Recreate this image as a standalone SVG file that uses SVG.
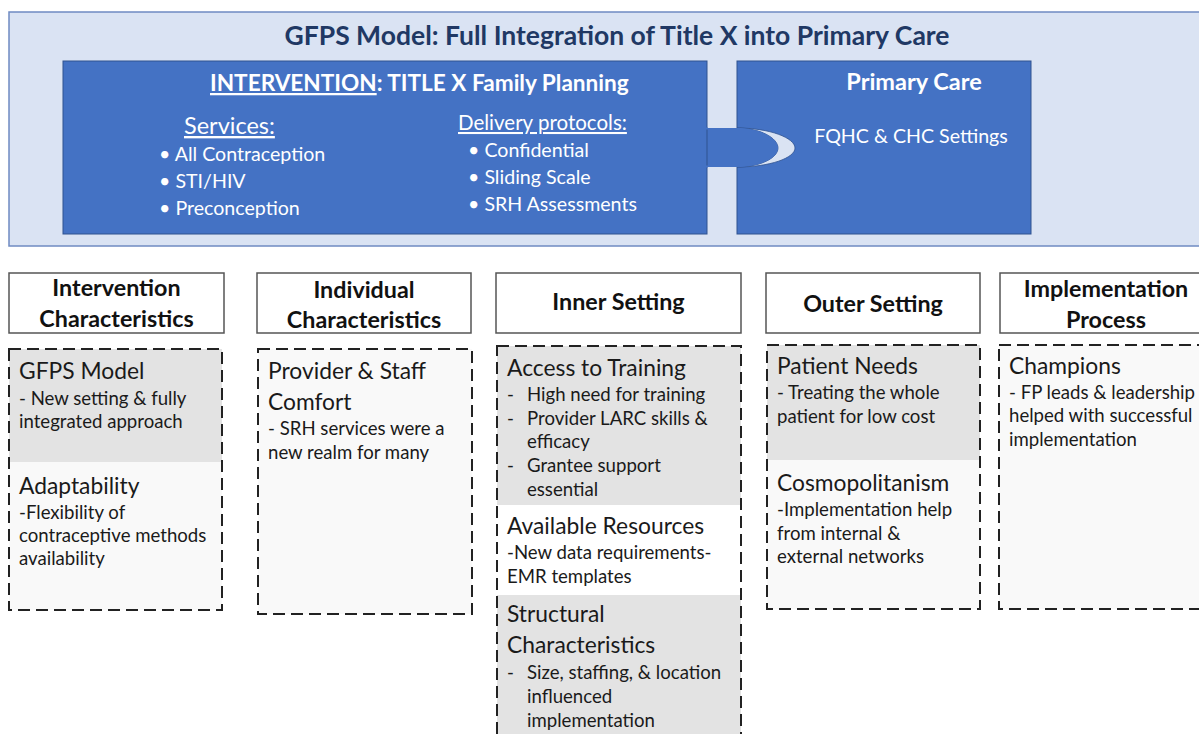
<svg xmlns="http://www.w3.org/2000/svg" width="1199" height="734" viewBox="0 0 1199 734">
  <style>
    text { font-family: Lato, "Open Sans", "Liberation Sans", sans-serif; }
    .title { font-size: 26.5px; font-weight: 700; fill: #203864; }
    .wbold { font-size: 22.6px; font-weight: 700; fill: #ffffff; }
    .pc { font-size: 23.5px; font-weight: 700; fill: #ffffff; }
    .wlabel { font-size: 23.5px; fill: #ffffff; }
    .wproto { font-size: 20.5px; fill: #ffffff; }
    .wtext { font-size: 19.6px; fill: #ffffff; }
    .hdr { fill: #ffffff; stroke: #555555; stroke-width: 1.5; }
    .hdrtext { font-size: 23.3px; font-weight: 700; fill: #111111; text-anchor: middle; }
    .dash { fill: none; stroke: #222222; stroke-width: 2; stroke-dasharray: 12 6; }
    .gray { fill: #e3e3e3; }
    .light { fill: #f9f9f9; }
    .sub { font-size: 22.8px; fill: #1a1a1a; }
    .body { font-size: 18.6px; fill: #1a1a1a; }
  </style>

  <rect width="1199" height="734" fill="#ffffff"/>

  <!-- Top banner: the GFPS model -->
  <g id="gfps-banner">
    <rect x="9" y="12" width="1200" height="234" fill="#dae3f3" stroke="#6f8bc2" stroke-width="1.5"/>
    <text class="title" x="617" y="45" text-anchor="middle">GFPS Model: Full Integration of Title X into Primary Care</text>
  </g>

  <g id="primary-care">
    <rect x="737" y="61" width="294" height="173" fill="#4472c4" stroke="#2f528f" stroke-width="1"/>
    <text class="pc" x="914" y="90" text-anchor="middle">Primary Care</text>
    <text class="wtext" x="911" y="143" text-anchor="middle">FQHC &amp; CHC Settings</text>
  </g>

  <!-- Puzzle-style joint between the two blue panels -->
  <g id="connectors">
    <path d="M737,128 C770,128 795,138 795,148 C795,158 770,167 737,167 C760,167 778,158 778,148 C778,138 760,128 737,128 Z" fill="#dae3f3" stroke="#2f528f" stroke-width="0.8"/>
    <path d="M706,128 L737,128 C760,128 778,138 778,148 C778,158 760,167 737,167 L706,167 Z" fill="#4472c4"/>
  </g>

  <g id="intervention">
    <rect x="63" y="61" width="644" height="173" fill="#4472c4" stroke="#2f528f" stroke-width="1"/>
    <path d="M706,128.5 L708,128.5 M706,166.5 L708,166.5" stroke="#4472c4" stroke-width="2"/>
    <text class="wbold" x="210" y="91"><tspan text-decoration="underline">INTERVENTION</tspan>: TITLE X Family Planning</text>
    <text class="wlabel" x="184" y="134" text-decoration="underline">Services:</text>
    <text class="wtext" x="159" y="161">• All Contraception</text>
    <text class="wtext" x="159" y="188">• STI/HIV</text>
    <text class="wtext" x="159" y="215">• Preconception</text>
    <text class="wproto" x="458" y="130" text-decoration="underline">Delivery protocols:</text>
    <text class="wtext" x="468" y="157">• Confidential</text>
    <text class="wtext" x="468" y="184">• Sliding Scale</text>
    <text class="wtext" x="468" y="211">• SRH Assessments</text>
  </g>

  <!-- Domain 1 -->
  <g id="intervention-characteristics">
    <rect class="hdr" x="9" y="273" width="215" height="60"/>
    <text class="hdrtext" x="116.5" y="296">Intervention</text>
    <text class="hdrtext" x="116.5" y="327">Characteristics</text>
    <rect class="gray" x="9" y="349" width="213" height="113"/>
    <rect class="light" x="9" y="462" width="213" height="148"/>
    <rect class="dash" x="9" y="349" width="213" height="261"/>
    <text class="sub" x="19" y="379">GFPS Model</text>
    <text class="body" x="19" y="405">- New setting &amp; fully</text>
    <text class="body" x="19" y="428">integrated approach</text>
    <text class="sub" x="19" y="494">Adaptability</text>
    <text class="body" x="19" y="519">-Flexibility of</text>
    <text class="body" x="19" y="542">contraceptive methods</text>
    <text class="body" x="19" y="565">availability</text>
  </g>

  <!-- Domain 2 -->
  <g id="individual-characteristics">
    <rect class="hdr" x="257" y="273" width="214" height="60"/>
    <text class="hdrtext" x="364" y="298">Individual</text>
    <text class="hdrtext" x="364" y="328">Characteristics</text>
    <rect class="light" x="258" y="349" width="214" height="265"/>
    <rect class="dash" x="258" y="349" width="214" height="265"/>
    <text class="sub" x="268" y="379">Provider &amp; Staff</text>
    <text class="sub" x="268" y="410">Comfort</text>
    <text class="body" x="268" y="435">- SRH services were a</text>
    <text class="body" x="268" y="459">new realm for many</text>
  </g>

  <!-- Domain 3 -->
  <g id="inner-setting">
    <rect class="hdr" x="496" y="273" width="245" height="60"/>
    <text class="hdrtext" x="618.5" y="310">Inner Setting</text>
    <rect class="gray" x="497" y="346" width="244" height="159"/>
    <rect fill="#ffffff" x="497" y="505" width="244" height="90"/>
    <rect class="gray" x="497" y="595" width="244" height="150"/>
    <rect class="dash" x="497" y="346" width="244" height="400"/>
    <text class="sub" x="507" y="376">Access to Training</text>
    <text class="body" x="507" y="401">-</text>
    <text class="body" x="527" y="401">High need for training</text>
    <text class="body" x="507" y="425">-</text>
    <text class="body" x="527" y="425">Provider LARC skills &amp;</text>
    <text class="body" x="527" y="448">efficacy</text>
    <text class="body" x="507" y="472">-</text>
    <text class="body" x="527" y="472">Grantee support</text>
    <text class="body" x="527" y="496">essential</text>
    <text class="sub" x="507" y="534">Available Resources</text>
    <text class="body" x="507" y="559">-New data requirements-</text>
    <text class="body" x="507" y="583">EMR templates</text>
    <text class="sub" x="507" y="622">Structural</text>
    <text class="sub" x="507" y="653">Characteristics</text>
    <text class="body" x="507" y="679">-</text>
    <text class="body" x="527" y="679">Size, staffing, &amp; location</text>
    <text class="body" x="527" y="703">influenced</text>
    <text class="body" x="527" y="727">implementation</text>
  </g>

  <!-- Domain 4 -->
  <g id="outer-setting">
    <rect class="hdr" x="766" y="273" width="214" height="60"/>
    <text class="hdrtext" x="873" y="312">Outer Setting</text>
    <rect class="gray" x="767" y="345" width="213" height="115"/>
    <rect class="light" x="767" y="460" width="213" height="149"/>
    <rect class="dash" x="767" y="345" width="213" height="264"/>
    <text class="sub" x="777" y="374">Patient Needs</text>
    <text class="body" x="777" y="399">- Treating the whole</text>
    <text class="body" x="777" y="423">patient for low cost</text>
    <text class="sub" x="777" y="491">Cosmopolitanism</text>
    <text class="body" x="777" y="516">-Implementation help</text>
    <text class="body" x="777" y="540">from internal &amp;</text>
    <text class="body" x="777" y="563">external networks</text>
  </g>

  <!-- Domain 5 -->
  <g id="implementation-process">
    <rect class="hdr" x="1000" y="273" width="212" height="60"/>
    <text class="hdrtext" x="1106" y="297">Implementation</text>
    <text class="hdrtext" x="1106" y="328">Process</text>
    <rect class="light" x="999" y="345" width="212" height="264"/>
    <rect class="dash" x="999" y="345" width="212" height="264"/>
    <text class="sub" x="1009" y="374">Champions</text>
    <text class="body" x="1009" y="399">- FP leads &amp; leadership</text>
    <text class="body" x="1009" y="422">helped with successful</text>
    <text class="body" x="1009" y="446">implementation</text>
  </g>
</svg>
